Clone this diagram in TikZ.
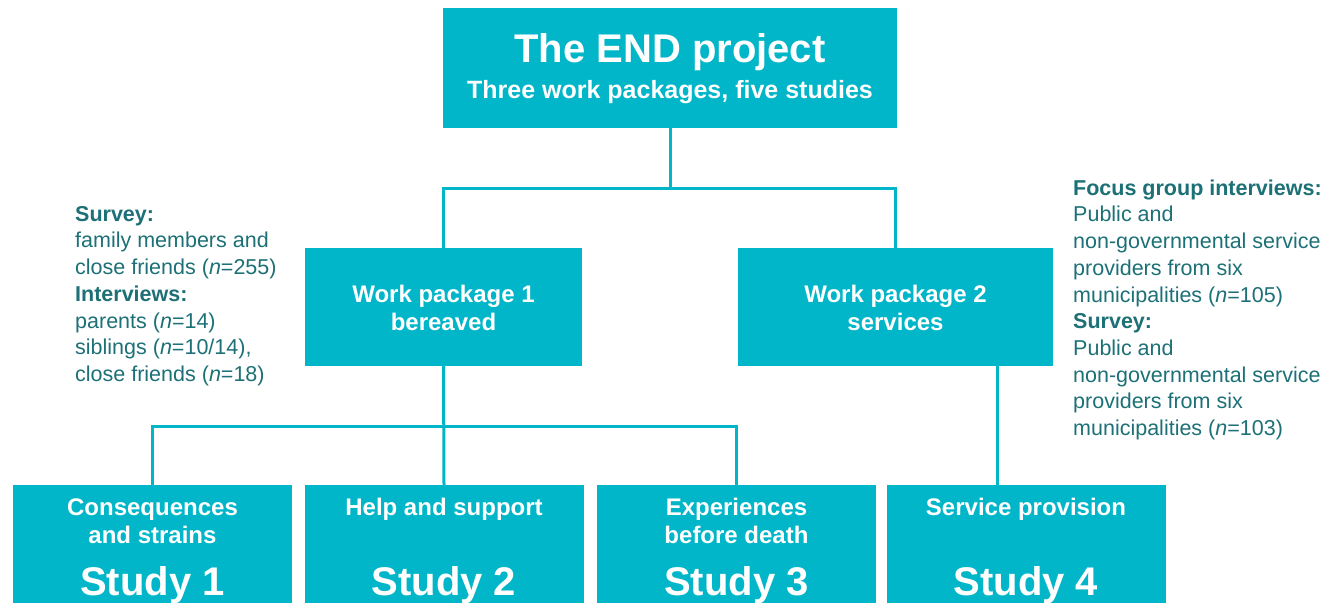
\documentclass[tikz,border=0pt]{standalone}
\usepackage{fontspec}
\setmainfont{Liberation Sans}
\usetikzlibrary{positioning}
\definecolor{endteal}{RGB}{0,182,200}
\definecolor{endtext}{RGB}{28,112,118}

\begin{document}
\begin{tikzpicture}[x=1pt,y=-1pt,
	box/.style={fill=endteal,inner sep=0pt},
	boxtext/.style={text=white,align=center,inner sep=0pt},
	head/.style={boxtext,anchor=base,font=\bfseries\fontsize{24}{28}\selectfont},
	study/.style={boxtext,anchor=base,font=\bfseries\fontsize{40}{48}\selectfont},
	side/.style={text=endtext,align=left,inner sep=0pt,anchor=north west,font=\fontsize{21.5}{26.7}\selectfont},
	link/.style={endteal,line width=3pt}]
	\useasboundingbox (0,0) rectangle (1330,603);

	\node[box,minimum width=454pt,minimum height=120pt] (top) at (670,68) {};
	\node[boxtext,anchor=base,font=\bfseries\fontsize{40}{48}\selectfont] (title) at ([yshift=-55pt]top.north) {The END project};
	\node[boxtext,anchor=base,font=\bfseries\fontsize{25}{30}\selectfont] (subtitle) at ([yshift=-91pt]top.north) {Three work packages, five studies};

	\node[box,minimum width=277pt,minimum height=118pt] (wp1) at (443.5,307) {};
	\node[box,minimum width=315pt,minimum height=118pt] (wp2) at (895.5,307) {};
	\node[head] (wp1txt) at ([yshift=-83pt]wp1.north) {Work package 1\\bereaved};
	\node[head] (wp2txt) at ([yshift=-83pt]wp2.north) {Work package 2\\services};

	\node[box,minimum width=279pt,minimum height=118pt] (s1) at (152.5,544) {};
	\node[box,minimum width=279pt,minimum height=118pt] (s2) at (444,544) {};
	\node[box,minimum width=279pt,minimum height=118pt] (s3) at (736.5,544) {};
	\node[box,minimum width=279pt,minimum height=118pt] (s4) at (1026,544) {};
	\node[head] (h1) at ([yshift=-59pt]s1.north) {Consequences\\and strains};
	\node[head] (h2) at ([yshift=-31pt]s2.north) {Help and support};
	\node[head] (h3) at ([yshift=-59pt]s3.north) {Experiences\\before death};
	\node[head] (h4) at ([yshift=-31pt]s4.north) {Service provision};
	\node[study] (n1) at ([yshift=-111pt]s1.north) {Study 1};
	\node[study] (n2) at ([yshift=-111pt]s2.north) {Study 2};
	\node[study] (n3) at ([yshift=-111pt]s3.north) {Study 3};
	\node[study] (n4) at ([yshift=-111pt]s4.north) {Study 4};

	\coordinate (j1) at ([yshift=-60pt]top.south);
	\coordinate (j2) at ([yshift=-60pt]wp1.south);
	\coordinate (w2out) at ([xshift=101.5pt]wp2.south);
	\draw[link] (top.south) -- (j1);
	\draw[link] (wp1.north) |- (j1) -| (wp2.north);
	\draw[link] (wp1.south) -- (s2.north);
	\draw[link] (s1.north) |- (j2) -| (s3.north);
	\draw[link] (w2out) -- (w2out |- s4.north);

	\node[side] (bereaved) at (75,206) {\textbf{Survey:}\\family members and\\close friends (\textit{n}=255)\\\textbf{Interviews:}\\parents (\textit{n}=14)\\siblings (\textit{n}=10/14),\\close friends (\textit{n}=18)};
	\node[side] (services) at (1073,179.5) {\textbf{Focus group interviews:}\\Public and\\non-governmental service\\providers from six\\municipalities (\textit{n}=105)\\\textbf{Survey:}\\Public and\\non-governmental service\\providers from six\\municipalities (\textit{n}=103)};
\end{tikzpicture}
\end{document}
